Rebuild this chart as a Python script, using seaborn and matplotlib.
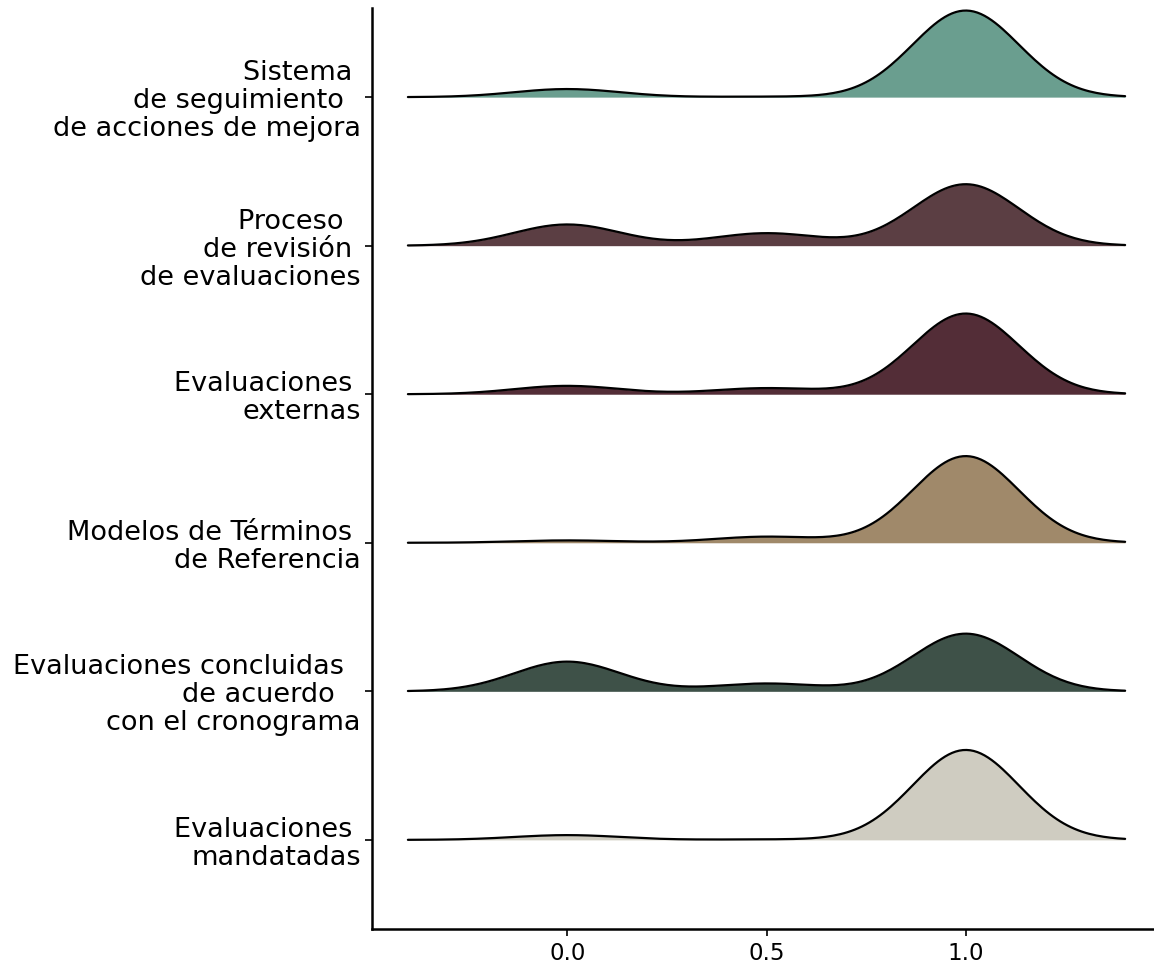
import matplotlib
matplotlib.use("Agg")
import matplotlib.pyplot as plt
import matplotlib.transforms as mtransforms
import numpy as np
import seaborn as sns

# Categories, top to bottom (line breaks and trailing spaces as in the chart)
categories = [
    "Sistema \nde seguimiento  \nde acciones de mejora",
    "Proceso  \nde revisión \nde evaluaciones",
    "Evaluaciones \nexternas",
    "Modelos de Términos \nde Referencia",
    "Evaluaciones concluidas  \nde acuerdo   \ncon el cronograma",
    "Evaluaciones \nmandatadas",
]

# Score values and the share (%) of cases at each score, per category
scores = [0.0, 0.5, 1.0]
pct_sistema = [8.5, 0.5, 91.0]
pct_revision = [22.3, 13.1, 64.6]
pct_externas = [8.8, 6.4, 84.8]
pct_terminos = [2.5, 6.4, 91.1]
pct_cronograma = [31.2, 8.2, 60.6]
pct_mandatadas = [5.0, 0.5, 94.5]
shares = [pct_sistema, pct_revision, pct_externas,
          pct_terminos, pct_cronograma, pct_mandatadas]

colors = ["#6a9e8f", "#5b3e43", "#532d37", "#a0896a", "#3e5148", "#cfccc1"]

bandwidth = 0.1333   # common kernel bandwidth for all ridges
ridge_scale = 0.214  # density units -> row units

sns.set_style("ticks")
plt.rcParams["font.family"] = ["DejaVu Sans"]
plt.rcParams["text.color"] = "black"
plt.rcParams["xtick.color"] = "black"
plt.rcParams["ytick.color"] = "black"

fig = plt.figure(figsize=(11.54, 9.63), dpi=100)
ax = fig.add_axes([372 / 1154, 34 / 963, 782 / 1154, 921 / 963])

n_rows = len(categories)
for i, (pct, color) in enumerate(zip(shares, colors)):
    y0 = n_rows - 1 - i
    # expand shares into observations (per 1000 cases)
    obs = np.repeat(scores, np.round(np.array(pct) * 10).astype(int))
    # same absolute bandwidth for every ridge
    factor = bandwidth / np.std(obs, ddof=1)
    n_coll = len(ax.collections)
    n_lines = len(ax.lines)
    sns.kdeplot(x=obs, bw_method=factor, cut=3, fill=True,
                color=color, alpha=1, linewidth=0, ax=ax)
    sns.kdeplot(x=obs, bw_method=factor, cut=3,
                color="black", linewidth=1.6, ax=ax)
    shift = mtransforms.Affine2D().scale(1, ridge_scale).translate(0, y0) + ax.transData
    for art in list(ax.collections)[n_coll:] + list(ax.lines)[n_lines:]:
        art.set_transform(shift)

ax.set_xlim(-0.49, -0.49 + 782 / 398.5)
ax.set_ylim(-0.6, 5.6)
ax.set_xticks([0.0, 0.5, 1.0])
ax.set_xticklabels(["0.0", "0.5", "1.0"], fontsize=16.5)
ax.set_yticks(range(n_rows))
ax.set_yticklabels(categories[::-1], fontsize=19.5, linespacing=1.1)
ax.set_xlabel("")
ax.set_ylabel("")
ax.tick_params(length=5, width=1.2, color="black")
ax.tick_params(axis="x", pad=4)
ax.tick_params(axis="y", pad=3)
sns.despine(ax=ax)
for side in ["left", "bottom"]:
    ax.spines[side].set_linewidth(1.8)
    ax.spines[side].set_color("black")

fig.savefig("out.png", dpi=100)
